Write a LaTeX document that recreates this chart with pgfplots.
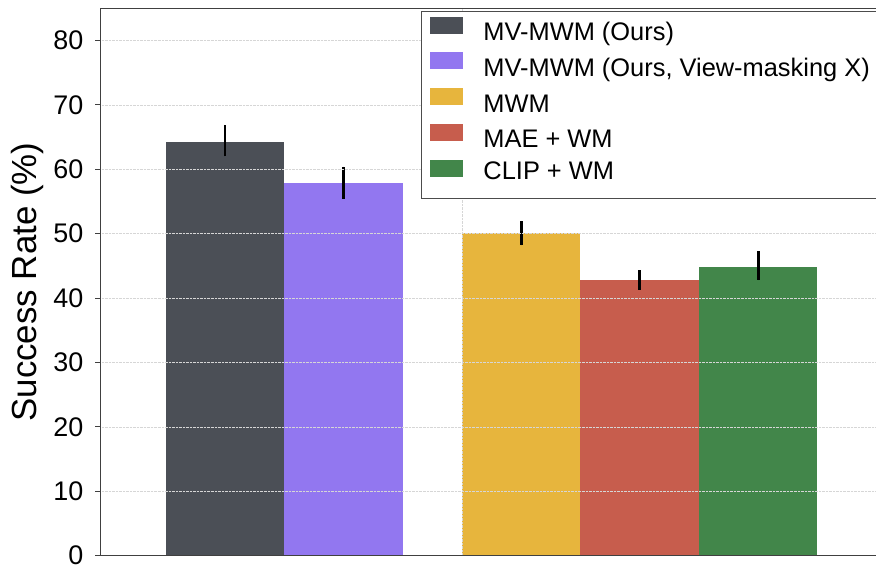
\documentclass[border=0pt]{standalone}
\usepackage{pgfplots}
\pgfplotsset{compat=1.18}
\usepackage{fontspec}
\setmainfont{Liberation Sans}
\definecolor{c1}{HTML}{4B4F56}
\definecolor{c2}{HTML}{9277F0}
\definecolor{c3}{HTML}{E7B53D}
\definecolor{c4}{HTML}{C75D4D}
\definecolor{c5}{HTML}{42864A}
\begin{document}
\begin{tikzpicture}
\begin{axis}[
  x=118.5bp, y=6.44bp,
  xmin=-1.05, xmax=5.6, ymin=0, ymax=85,
  ybar, bar width=1,
  axis on top,
  xtick={2}, xticklabels={}, xtick style={draw=none},
  ytick={0,10,...,80},
  ymajorgrids, xmajorgrids,
  grid style={densely dotted, line width=0.5bp, color=black!16},
  axis line style={draw=black!75, line width=1.1bp},
  ytick style={draw=black!75, line width=1.1bp},
  tick align=outside, major tick length=5bp,
  /pgf/number format/assume math mode=true,
  yticklabel style={font=\fontsize{27}{30}\selectfont, inner sep=0pt, xshift=-12bp},
  ylabel={Success Rate (\%)},
  every axis y label/.style={at={(axis description cs:-0.0806,0.5)}, rotate=90, anchor=base, font=\fontsize{35}{38}\selectfont},
  legend style={at={(axis description cs:0.4067,0.995)}, anchor=north west,
    draw=black!70, line width=1bp, fill=white,
    inner xsep=9bp, inner ysep=5bp, font=\fontsize{25.5}{29}\selectfont, row sep=8bp, column sep=18bp},
  legend cell align=left,
  legend image code/.code={\fill[#1] (0bp,-1bp) rectangle (33bp,16bp);},
  error bars/y dir=both, error bars/y explicit,
  error bars/error mark=none,
  error bars/error bar style={line width=2.8bp, black},
]
\addplot[fill=c1, draw=none, bar shift=0pt] coordinates {(0,64.3) += (0,2.6) -= (0,2.3)};
\addlegendentry{MV-MWM (Ours)}
\addplot[fill=c2, draw=none, bar shift=0pt] coordinates {(1,57.9) += (0,2.5) -= (0,2.5)};
\addlegendentry{MV-MWM (Ours, View-masking X)}
\addplot[fill=c3, draw=none, bar shift=0pt] coordinates {(2.5,50.1) += (0,1.9) -= (0,1.9)};
\addlegendentry{MWM}
\addplot[fill=c4, draw=none, bar shift=0pt] coordinates {(3.5,42.8) += (0,1.5) -= (0,1.5)};
\addlegendentry{MAE + WM}
\addplot[fill=c5, draw=none, bar shift=0pt] coordinates {(4.5,44.9) += (0,2.4) -= (0,2.1)};
\addlegendentry[text depth=12bp]{CLIP + WM}
\coordinate (bl) at (rel axis cs:0,0);
\end{axis}
\pgfresetboundingbox
\path[use as bounding box] (bl) ++(-100.5bp,-11.3bp) rectangle ++(876bp,567bp);
\end{tikzpicture}
\end{document}
